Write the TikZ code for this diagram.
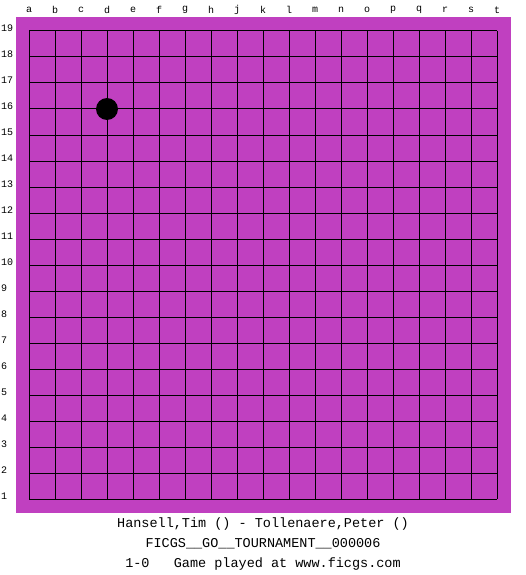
\documentclass[tikz,border=0pt]{standalone}
\usepackage{fontspec}
\setmonofont{Liberation Mono}
\definecolor{board}{RGB}{192,64,192}
\tikzset{coord/.style={font=\ttfamily\fontsize{10}{10}\selectfont,inner sep=0pt}}

\begin{document}
\begin{tikzpicture}[x=1pt,y=-1pt]
\useasboundingbox (0,0) rectangle (525,575);
\fill [board] (16,17) rectangle (511,513);
\foreach \i in {0,...,18}{
  \draw [line width=1pt] (29+26*\i,31) -- (29+26*\i,499);
  \draw [line width=1pt] (29,31+26*\i) -- (497,31+26*\i);
}
\foreach \l [count=\i from 0] in {a,b,c,d,e,f,g,h,j,k,l,m,n,o,p,q,r,s,t}
  \node [coord] (col\l) at (29+26*\i,10) {\l};
\foreach \n in {1,...,19}
  \node [coord,anchor=west] (row\n) at (1,{499-26*(\n-1)-3}) {\n};
\fill [black] (107,109) circle (11);
\node (players) at (263,524) {\ttfamily\fontsize{13.5}{14}\selectfont Hansell,Tim () - Tollenaere,Peter ()};
\node (event) at (263,544) {\ttfamily\fontsize{13.5}{14}\selectfont FICGS\_\_GO\_\_TOURNAMENT\_\_000006};
\node (result) at (263,564) {\ttfamily\fontsize{13.5}{14}\selectfont 1-0\ \ \ Game played at www.ficgs.com};
\end{tikzpicture}
\end{document}
